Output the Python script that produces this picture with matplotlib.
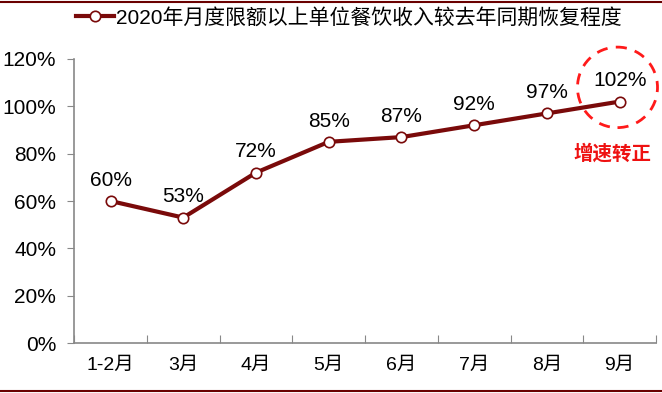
import matplotlib.pyplot as plt
from matplotlib.patches import Ellipse
from matplotlib.lines import Line2D

plt.rcParams['font.family'] = ['Liberation Sans', 'Noto Sans CJK SC', 'DejaVu Sans']

# data
months = ['1-2月', '3月', '4月', '5月', '6月', '7月', '8月', '9月']
recovery = [60, 53, 72, 85, 87, 92, 97, 102]
legend_label = '2020年月度限额以上单位餐饮收入较去年同期恢复程度'
note = '增速转正'

line_color = '#7a0a0a'
axis_color = '#888888'

fig = plt.figure(figsize=(6.62, 3.93), dpi=100)
ax = fig.add_axes([0.112, 0.127, 0.879, 0.723])

x = list(range(len(months)))
ax.plot(x, recovery, color=line_color, lw=3, marker='o', ms=7.5,
        mfc='white', mec=line_color, mew=1.2, zorder=3)

for xi, v in zip(x, recovery):
    ax.annotate(f'{v}%', (xi, v), xytext=(0, 8), textcoords='offset points',
                ha='center', va='bottom', fontsize=15, color='black')

# dashed circle around the last point
ax.add_patch(Ellipse((x[-1] - 0.03, recovery[-1] + 6), 1.1, 34, fill=False,
                     ec='#ff1a1a', lw=2, ls=(0, (4, 3)), zorder=4, clip_on=False))
ax.text(x[-1] - 0.1, recovery[-1] - 22, note, color='#ee1111', fontsize=14,
        fontweight='bold', ha='center', va='center',
        family=['Noto Sans CJK SC'])

ax.set_xlim(-0.5, len(months) - 0.5)
ax.set_ylim(0, 120)
ax.set_yticks(range(0, 121, 20))
ax.set_yticklabels([f'{t}%' for t in range(0, 121, 20)], fontsize=15)

ax.set_xticks([i - 0.5 for i in range(len(months) + 1)])
ax.set_xticklabels([])
ax.set_xticks(x, minor=True)
ax.set_xticklabels(months, minor=True, fontsize=14)
ax.tick_params(axis='x', which='major', direction='in', length=6, color=axis_color)
ax.tick_params(axis='x', which='minor', length=0, pad=10)
ax.tick_params(axis='y', direction='out', length=5, color=axis_color, pad=8)

for s in ['top', 'right']:
    ax.spines[s].set_visible(False)
for s in ['left', 'bottom']:
    ax.spines[s].set_color(axis_color)
    ax.spines[s].set_linewidth(1.2)

handle = Line2D([], [], color=line_color, lw=3, marker='o', ms=7.5,
                mfc='white', mec=line_color, mew=1.2)
fig.legend([handle], [legend_label], loc='center', bbox_to_anchor=(0.527, 0.955),
           frameon=False, handlelength=1.8, handletextpad=0.1,
           prop={'family': ['Liberation Sans', 'Noto Sans CJK SC'], 'size': 15})

# thin dark red frame lines at top and bottom
fig.add_artist(Line2D([0, 1], [0.996, 0.996], color='#6a0000', lw=1.5, transform=fig.transFigure))
fig.add_artist(Line2D([0, 1], [0.004, 0.004], color='#6a0000', lw=1.5, transform=fig.transFigure))

fig.savefig('out.png', dpi=100)
